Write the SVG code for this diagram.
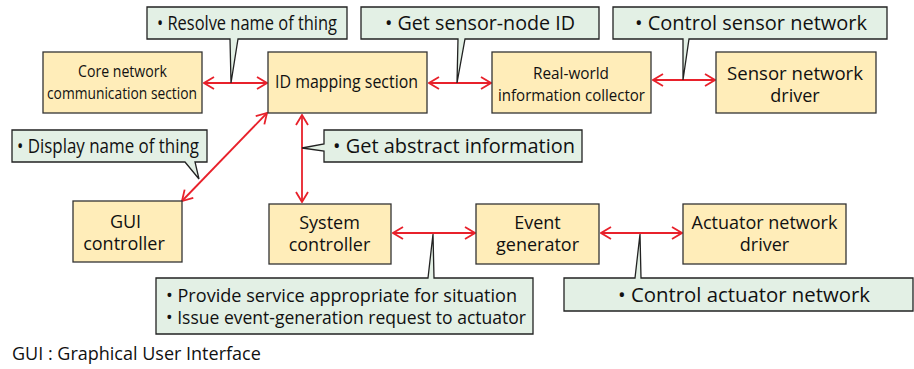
<svg xmlns="http://www.w3.org/2000/svg" width="914" height="369" viewBox="0 0 914 369">
<defs>
<style>
.node{fill:#FFEDB9;stroke:#333;stroke-width:1.3}
.call{fill:#E3F0E5;stroke:#222;stroke-width:1.3}
.t{font-family:"Open Sans","Liberation Sans",sans-serif;font-size:18px;fill:#111}
.s{font-family:"Open Sans","Liberation Sans",sans-serif;font-size:17px;fill:#111}
.b{font-family:"Open Sans","Liberation Sans",sans-serif;font-size:20px;fill:#111}
.c{text-anchor:middle}
.a{stroke:#E8212B;stroke-width:1.8;fill:none;marker-start:url(#ah);marker-end:url(#ah)}
</style>
<marker id="ah" viewBox="0 0 12 14" refX="11" refY="7" markerWidth="12" markerHeight="14" markerUnits="userSpaceOnUse" orient="auto-start-reverse">
<polyline points="1,1 11,7 1,13" fill="none" stroke="#E8212B" stroke-width="1.8"/>
</marker>
</defs>
<rect width="914" height="369" fill="#fff"/>

<g id="connectors">
<line class="a" x1="204" y1="83" x2="267" y2="83"/>
<line class="a" x1="429" y1="83" x2="491" y2="83"/>
<line class="a" x1="653" y1="80" x2="715" y2="80"/>
<line class="a" x1="267" y1="113" x2="182" y2="201"/>
<line class="a" x1="302" y1="115" x2="302" y2="202"/>
<line class="a" x1="393" y1="233" x2="475" y2="233"/>
<line class="a" x1="601" y1="233" x2="682" y2="233"/>
</g>

<g id="core">
<rect class="node" x="43" y="52" width="159" height="61"/>
<text class="s c" x="122.5" y="77" textLength="89" lengthAdjust="spacingAndGlyphs">Core network</text>
<text class="s c" x="122" y="99" textLength="150" lengthAdjust="spacingAndGlyphs">communication section</text>
</g>
<g id="idmap">
<rect class="node" x="268" y="52" width="159" height="61"/>
<text class="t c" x="346.5" y="88" textLength="143" lengthAdjust="spacingAndGlyphs">ID mapping section</text>
</g>
<g id="realworld">
<rect class="node" x="492" y="52" width="159" height="61"/>
<text class="s c" x="571" y="79" textLength="76" lengthAdjust="spacingAndGlyphs">Real-world</text>
<text class="s c" x="571.5" y="101" textLength="147" lengthAdjust="spacingAndGlyphs">information collector</text>
</g>
<g id="sensordrv">
<rect class="node" x="716" y="52" width="160" height="61"/>
<text class="t c" x="795" y="80" textLength="136" lengthAdjust="spacingAndGlyphs">Sensor network</text>
<text class="t c" x="795" y="102">driver</text>
</g>
<g id="gui">
<rect class="node" x="73" y="201" width="109" height="61"/>
<text class="t c" x="125.5" y="228">GUI</text>
<text class="t c" x="124" y="250">controller</text>
</g>
<g id="system">
<rect class="node" x="269" y="204" width="122" height="60"/>
<text class="t c" x="329.5" y="229">System</text>
<text class="t c" x="329.5" y="251">controller</text>
</g>
<g id="event">
<rect class="node" x="476" y="204" width="123" height="60"/>
<text class="t c" x="537.5" y="229">Event</text>
<text class="t c" x="537.5" y="251">generator</text>
</g>
<g id="actuator">
<rect class="node" x="683" y="204" width="163" height="60"/>
<text class="t c" x="764.5" y="229">Actuator network</text>
<text class="t c" x="764.5" y="251">driver</text>
</g>

<g id="callout-resolve">
<path class="call" d="M147,7 H347 V39 H238 L231,83 L230,39 H147 Z"/>
<text class="b c" x="247" y="30" textLength="180" lengthAdjust="spacingAndGlyphs">• Resolve name of thing</text>
</g>
<g id="callout-sensorid">
<path class="call" d="M361,7 H599 V39 H465 L457,83 L458,39 H361 Z"/>
<text class="b c" x="480" y="30" textLength="190" lengthAdjust="spacingAndGlyphs">• Get sensor-node ID</text>
</g>
<g id="callout-sensornet">
<path class="call" d="M613,7 H887 V39 H689 L683,80 L683,39 H613 Z"/>
<text class="b c" x="751" y="30" textLength="232" lengthAdjust="spacingAndGlyphs">• Control sensor network</text>
</g>
<g id="callout-display">
<path class="call" d="M12,130 H207 V162 H195 L199,179 L185,162 H12 Z"/>
<text class="b c" x="108" y="153" textLength="182" lengthAdjust="spacingAndGlyphs">• Display name of thing</text>
</g>
<g id="callout-abstract">
<path class="call" d="M324,130 H582 V162 H324 V151 L302,148 L324,144 Z"/>
<text class="b c" x="454" y="153" textLength="242" lengthAdjust="spacingAndGlyphs">• Get abstract information</text>
</g>
<g id="callout-service">
<path class="call" d="M156,278 H428 L433,234 L434,278 H533 V334 H156 Z"/>
<text class="t" x="166" y="302" textLength="351" lengthAdjust="spacingAndGlyphs">• Provide service appropriate for situation</text>
<text class="t" x="166" y="324" textLength="360" lengthAdjust="spacingAndGlyphs">• Issue event-generation request to actuator</text>
</g>
<g id="callout-actuator">
<path class="call" d="M564,278 H635 L640,234 L641,278 H913 V311 H564 Z"/>
<text class="b c" x="744" y="302" textLength="252" lengthAdjust="spacingAndGlyphs">• Control actuator network</text>
</g>

<text class="t" x="12" y="360">GUI : Graphical User Interface</text>
</svg>
